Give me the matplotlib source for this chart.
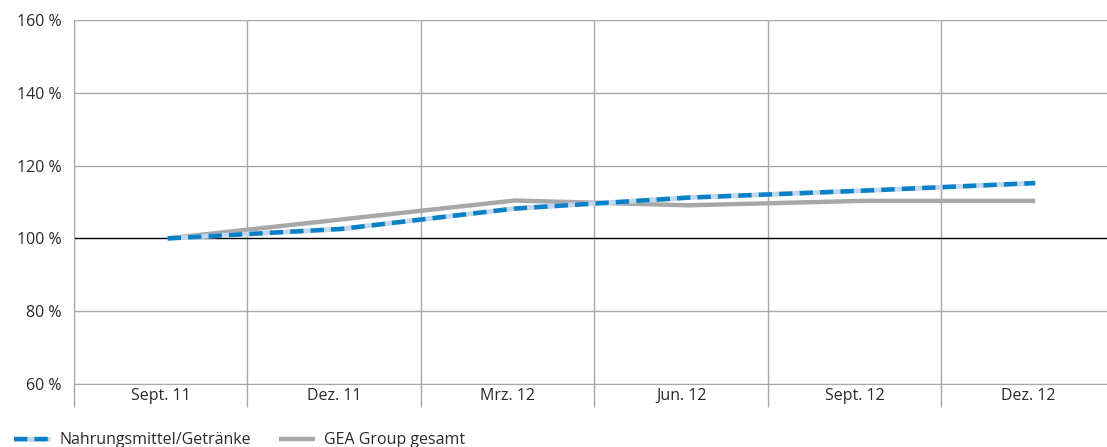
import numpy as np
import matplotlib.pyplot as plt

plt.rcParams['font.family'] = ['Open Sans', 'DejaVu Sans']

quartale = ["Sept. 11", "Dez. 11", "Mrz. 12", "Jun. 12", "Sept. 12", "Dez. 12"]
nahrung = [100, 102.6, 108.2, 111.2, 113.1, 115.2]
gea_gesamt = [100, 105.2, 110.4, 109.1, 110.3, 110.3]
y_ticks = [60, 80, 100, 120, 140, 160]

blau = "#0a80c6"
hellblau = "#c3d7ec"
grau = "#a8a8a8"
text_farbe = "#2a2a2a"
fs = 11.5

fig = plt.figure(figsize=(11.07, 4.47), dpi=100)
ax = fig.add_axes([74 / 1107, 63 / 447, 1041 / 1107, 364 / 447])

x = np.arange(len(quartale)) + 0.54
l_gea, = ax.plot(x, gea_gesamt, color=grau, lw=3.2, solid_capstyle="butt", zorder=3)
l_hell, = ax.plot(x, nahrung, color=hellblau, lw=3.5, solid_capstyle="butt", zorder=4)
l_blau, = ax.plot(x, nahrung, color=blau, lw=3.2, ls=(0, (3, 1.6)), zorder=5)

ax.set_xlim(0, len(quartale))
ax.set_ylim(60, 160)

ax.set_yticks(y_ticks)
ax.set_yticklabels([f"{v} %" for v in y_ticks])
ax.tick_params(axis="y", length=0, pad=9, labelsize=fs, labelcolor=text_farbe)
for v in y_ticks:
    ax.axhline(v, color="black" if v == 100 else grau, lw=1, zorder=2 if v == 100 else 1)

ax.set_xticks(np.arange(len(quartale) + 1))
ax.set_xticklabels([])
ax.tick_params(axis="x", which="major", length=16.5, width=1, color=grau)
ax.set_xticks(np.arange(len(quartale)) + 0.5, minor=True)
ax.set_xticklabels(quartale, minor=True)
ax.tick_params(axis="x", which="minor", length=0, pad=3, labelsize=fs, labelcolor=text_farbe)
ax.grid(axis="x", which="major", color=grau, lw=1)

for s in ["top", "right"]:
    ax.spines[s].set_visible(False)
for s in ["left", "bottom"]:
    ax.spines[s].set_color(grau)

fig.legend([(l_hell, l_blau), l_gea], ["Nahrungsmittel/Getränke", "GEA Group gesamt"],
           loc="lower left", bbox_to_anchor=(0.0, -0.035), ncol=2, frameon=False,
           fontsize=fs, handlelength=2.2, columnspacing=1.8, handletextpad=0.6,
           labelcolor=text_farbe)

fig.savefig("out.png", dpi=100)
